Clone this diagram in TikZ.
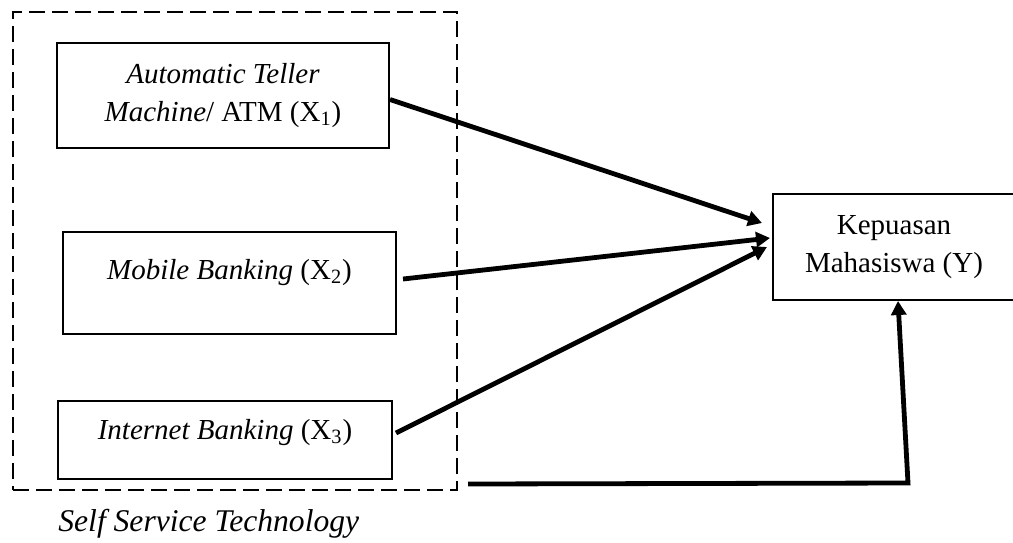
\documentclass[tikz,border=0pt]{standalone}
\usepackage{fontspec}
\setmainfont{Liberation Serif}
\usepackage{tikz}
\usetikzlibrary{arrows.meta}

\begin{document}
\begin{tikzpicture}[
  x=0.5pt, y=-0.5pt,
  >={Triangle[length=7pt, width=7.5pt]},
  box/.style={draw, line width=1pt, inner sep=0pt, align=center,
    font=\fontsize{14.5}{19}\selectfont},
  group/.style={draw, line width=1pt, dash pattern=on 8pt off 3.5pt,
    inner sep=0pt},
  arrow/.style={->, line width=2.4pt},
]
\useasboundingbox (0,0) rectangle (1013,542);

% ===== LEFT: Self Service Technology =====
\node[group, minimum width=222pt, minimum height=239pt] (sst) at (235, 251) {};
\node[font=\fontsize{15.8}{19}\selectfont\itshape, anchor=west, inner sep=0pt]
  (ssttitle) at (58, 524) {Self Service Technology};

\node[box, minimum width=166pt, minimum height=52.5pt] (atm) at (223, 95.5)
  {\textit{Automatic Teller}\\\textit{Machine}/ ATM (X\textsubscript{1})};
\node[box, minimum width=166.5pt, minimum height=51pt, text depth=14pt] (mob)
  at (229.5, 283) {\textit{Mobile Banking} (X\textsubscript{2})};
\node[box, minimum width=167pt, minimum height=39pt, text depth=11pt] (inet)
  at (225, 440) {\textit{Internet Banking} (X\textsubscript{3})};

% ===== RIGHT: dependent variable =====
\node[box, minimum width=121pt, minimum height=53pt] (kep) at (894, 247)
  {Kepuasan\\Mahasiswa (Y)};

% Arrows
\draw[arrow] ([yshift=-2pt]atm.east) -- ([xshift=-5pt, yshift=12pt]kep.west);
\draw[arrow] ([xshift=3pt, yshift=2pt]mob.east) -- ([xshift=-1pt, yshift=4.5pt]kep.west);
\draw[arrow] ([xshift=1.5pt, yshift=3.5pt]inet.east) -- ([xshift=-2.5pt]kep.west);

% group to Y
\coordinate (corner) at (908, 483);
\draw[arrow] ([xshift=5pt, yshift=3.5pt]sst.south east) -- (corner)
  -- ([xshift=2pt]kep.south);

\end{tikzpicture}
\end{document}
